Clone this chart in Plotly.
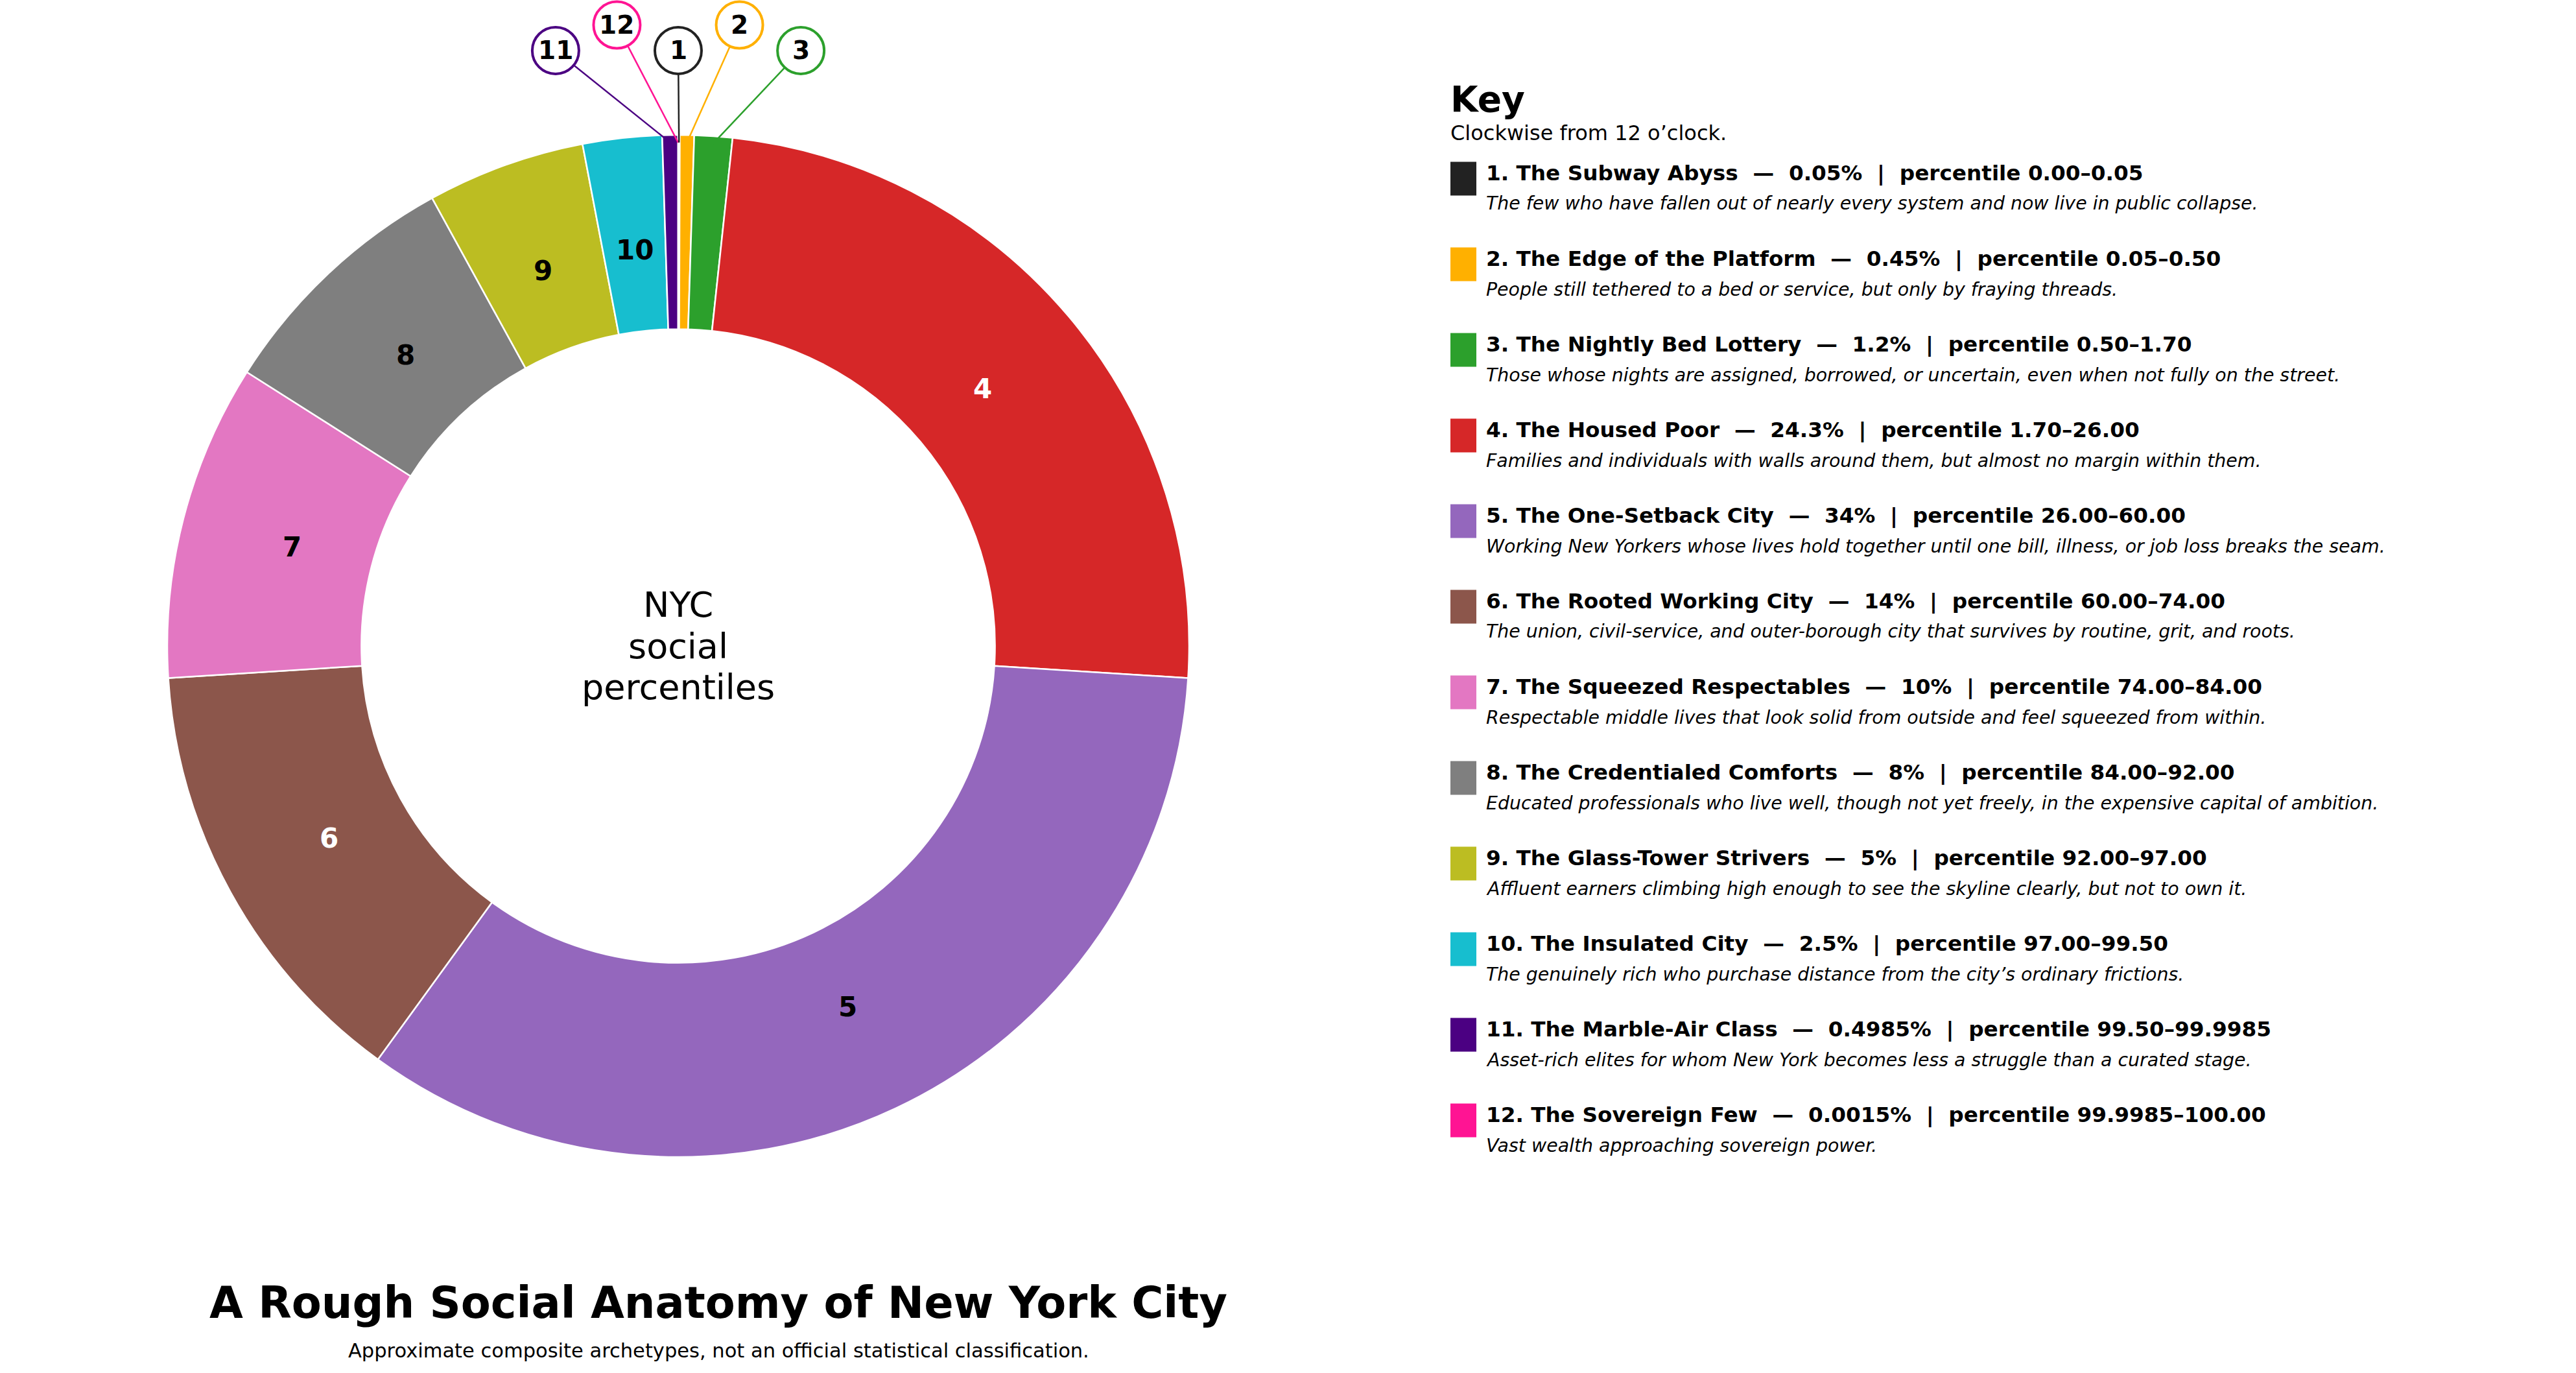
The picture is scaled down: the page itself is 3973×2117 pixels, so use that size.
import math
import plotly.graph_objects as go

# ---------------- data ----------------
ids = [1, 2, 3, 4, 5, 6, 7, 8, 9, 10, 11, 12]
names = [
    "The Subway Abyss", "The Edge of the Platform", "The Nightly Bed Lottery",
    "The Housed Poor", "The One-Setback City", "The Rooted Working City",
    "The Squeezed Respectables", "The Credentialed Comforts", "The Glass-Tower Strivers",
    "The Insulated City", "The Marble-Air Class", "The Sovereign Few",
]
shares = [0.05, 0.45, 1.2, 24.3, 34, 14, 10, 8, 5, 2.5, 0.4985, 0.0015]
share_labels = ["0.05%", "0.45%", "1.2%", "24.3%", "34%", "14%", "10%", "8%", "5%",
                "2.5%", "0.4985%", "0.0015%"]
pct_from = ["0.00", "0.05", "0.50", "1.70", "26.00", "60.00", "74.00", "84.00",
            "92.00", "97.00", "99.50", "99.9985"]
pct_to = ["0.05", "0.50", "1.70", "26.00", "60.00", "74.00", "84.00", "92.00",
          "97.00", "99.50", "99.9985", "100.00"]
descriptions = [
    "The few who have fallen out of nearly every system and now live in public collapse.",
    "People still tethered to a bed or service, but only by fraying threads.",
    "Those whose nights are assigned, borrowed, or uncertain, even when not fully on the street.",
    "Families and individuals with walls around them, but almost no margin within them.",
    "Working New Yorkers whose lives hold together until one bill, illness, or job loss breaks the seam.",
    "The union, civil-service, and outer-borough city that survives by routine, grit, and roots.",
    "Respectable middle lives that look solid from outside and feel squeezed from within.",
    "Educated professionals who live well, though not yet freely, in the expensive capital of ambition.",
    "Affluent earners climbing high enough to see the skyline clearly, but not to own it.",
    "The genuinely rich who purchase distance from the city\u2019s ordinary frictions.",
    "Asset-rich elites for whom New York becomes less a struggle than a curated stage.",
    "Vast wealth approaching sovereign power.",
]
colors = ["#222222", "#FFB000", "#2CA02C", "#D62728", "#9467BD", "#8C564B",
          "#E377C2", "#7F7F7F", "#BCBD22", "#17BECF", "#4B0082", "#FF1493"]

inside_ids = [4, 5, 6, 7, 8, 9, 10]
inside_text_colors = ["white", "black", "white", "black", "black", "black", "black"]
callout_ids = [11, 12, 1, 2, 3]

title_text = "A Rough Social Anatomy of New York City"
subtitle_text = "Approximate composite archetypes, not an official statistical classification."
center_lines = ["NYC", "social", "percentiles"]
key_title = "Key"
key_sub = "Clockwise from 12 o\u2019clock."

# ---------------- layout constants (pixels) ----------------
W, H = 3973, 2117
CX, CY, R = 1046, 996, 788          # pie centre and outer radius
FONT = "DejaVu Sans"
LABEL_R = 0.78
callout_x = [-0.24, -0.12, 0.0, 0.12, 0.24]
callout_y = [1.165, 1.215, 1.165, 1.215, 1.165]
callout_rad = 36 / R
leader_r = 0.985
TXT_OFF = 4   # small downward nudge for paper-positioned text

def py(px):
    return 1 - px / H

def px_(p):
    return p / W

fig = go.Figure()

fig.add_trace(go.Pie(
    values=shares,
    labels=[str(i) for i in ids],
    marker=dict(colors=colors, line=dict(color="white", width=2.5)),
    hole=0.62,
    sort=False,
    direction="clockwise",
    rotation=0,
    textinfo="none",
    hoverinfo="skip",
    showlegend=False,
    domain=dict(x=[(CX - R) / W, (CX + R) / W], y=[(H - CY - R) / H, (H - CY + R) / H]),
))

# invisible cartesian trace so the overlay axes exist
fig.add_trace(go.Scatter(x=[None], y=[None], mode="markers", showlegend=False,
                         hoverinfo="skip"))

total = sum(shares)
mid_angle = {}
cum = 0.0
for i, s in zip(ids, shares):
    mid_angle[i] = math.radians((cum + s / 2) / total * 360)
    cum += s

annotations = []
shapes = []

# labels inside the large slices
for i, tc in zip(inside_ids, inside_text_colors):
    a = mid_angle[i]
    annotations.append(dict(
        x=LABEL_R * math.sin(a), y=LABEL_R * math.cos(a), xref="x", yref="y",
        text=str(i), showarrow=False, xanchor="center", yanchor="middle",
        font=dict(family=FONT, size=42, color=tc, weight="bold"),
    ))

# callouts for tiny slices
for i, cxp, cyp in zip(callout_ids, callout_x, callout_y):
    a = mid_angle[i]
    col = colors[ids.index(i)]
    shapes.append(dict(type="line", xref="x", yref="y",
                       x0=cxp, y0=cyp,
                       x1=leader_r * math.sin(a), y1=leader_r * math.cos(a),
                       line=dict(color=col, width=2.5), layer="above"))
for i, cxp, cyp in zip(callout_ids, callout_x, callout_y):
    col = colors[ids.index(i)]
    shapes.append(dict(type="circle", xref="x", yref="y",
                       x0=cxp - callout_rad, x1=cxp + callout_rad,
                       y0=cyp - callout_rad, y1=cyp + callout_rad,
                       fillcolor="white", line=dict(color=col, width=4), layer="above"))
    annotations.append(dict(
        x=cxp, y=cyp, xref="x", yref="y", text=str(i), showarrow=False,
        xanchor="center", yanchor="middle",
        font=dict(family=FONT, size=39, color="black", weight="bold"),
    ))

# centre text
for k, line in enumerate(center_lines):
    annotations.append(dict(
        x=0, y=0.08 - 0.08 * k, xref="x", yref="y", text=line, showarrow=False,
        xanchor="center", yanchor="middle",
        font=dict(family=FONT, size=54, color="black"),
    ))

# title and subtitle
annotations.append(dict(x=px_(1108), y=py(2005 + TXT_OFF), xref="paper", yref="paper",
                        text=title_text, showarrow=False, xanchor="center", yanchor="middle",
                        font=dict(family=FONT, size=67, color="black", weight="bold")))
annotations.append(dict(x=px_(1108), y=py(2078 + TXT_OFF), xref="paper", yref="paper",
                        text=subtitle_text, showarrow=False, xanchor="center", yanchor="middle",
                        font=dict(family=FONT, size=30.5, color="black")))

# key
KX = 2237
annotations.append(dict(x=px_(KX - 2), y=py(149 + TXT_OFF), xref="paper", yref="paper",
                        text=key_title, showarrow=False, xanchor="left", yanchor="middle",
                        font=dict(family=FONT, size=55, color="black", weight="bold")))
annotations.append(dict(x=px_(KX - 2), y=py(201 + TXT_OFF), xref="paper", yref="paper",
                        text=key_sub, showarrow=False, xanchor="left", yanchor="middle",
                        font=dict(family=FONT, size=32, color="black")))

ROW0, STEP = 263.5, 132
for k, (i, nm, sl, pf, pt, d, col) in enumerate(
        zip(ids, names, share_labels, pct_from, pct_to, descriptions, colors)):
    yc = ROW0 + STEP * k
    shapes.append(dict(type="rect", xref="paper", yref="paper",
                       x0=px_(KX), x1=px_(KX + 40), y0=py(yc - 14), y1=py(yc + 38),
                       fillcolor=col, line=dict(width=0), layer="above"))
    head = f"{i}. {nm}  \u2014  {sl}  |  percentile {pf}\u2013{pt}"
    annotations.append(dict(x=px_(2290), y=py(yc + TXT_OFF), xref="paper", yref="paper",
                            text=head, showarrow=False, xanchor="left", yanchor="middle",
                            font=dict(family=FONT, size=32.7, color="black", weight="bold")))
    annotations.append(dict(x=px_(2290), y=py(yc + 46.5 + TXT_OFF), xref="paper", yref="paper",
                            text=d, showarrow=False, xanchor="left", yanchor="middle",
                            font=dict(family=FONT, size=28.4, color="black", style="italic")))

fig.update_layout(
    width=W, height=H,
    margin=dict(l=0, r=0, t=0, b=0),
    paper_bgcolor="white", plot_bgcolor="rgba(0,0,0,0)",
    xaxis=dict(range=[-CX / R, (W - CX) / R], visible=False, fixedrange=True,
               domain=[0, 1]),
    yaxis=dict(range=[-(H - CY) / R, CY / R], visible=False, fixedrange=True,
               domain=[0, 1]),
    shapes=shapes,
    annotations=annotations,
    showlegend=False,
)

fig.write_html("out.html")
